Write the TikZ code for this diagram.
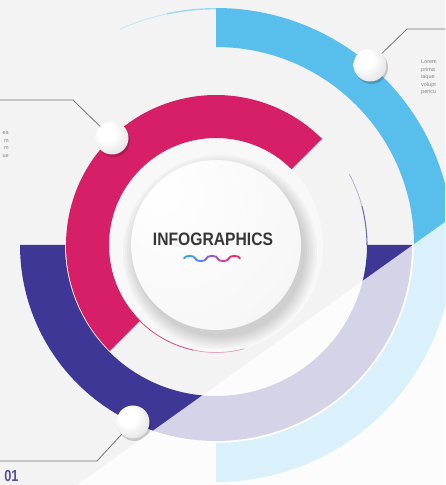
\documentclass[tikz,border=0pt]{standalone}
\usepackage{fontspec}
\setmainfont{Liberation Sans}
\usepackage{graphicx}
\usetikzlibrary{calc,shadows}
\definecolor{bgc}{RGB}{243,243,243}
\definecolor{platec}{RGB}{248,248,248}
\definecolor{pinkc}{RGB}{214,31,103}
\definecolor{indigoc}{RGB}{63,55,150}
\definecolor{bluec}{RGB}{88,190,236}
\definecolor{numc}{RGB}{86,80,160}
\definecolor{titlec}{RGB}{55,55,55}
\definecolor{leaderc}{RGB}{120,120,120}
\definecolor{txtc}{RGB}{135,135,135}
\definecolor{wa}{RGB}{58,160,242}
\definecolor{wb}{RGB}{92,128,232}
\definecolor{wc}{RGB}{140,92,214}
\definecolor{wd}{RGB}{196,66,160}
\definecolor{we}{RGB}{230,48,110}
\pgfdeclareradialshading{knobshade}{\pgfpoint{-12bp}{12bp}}{color(0bp)=(white); color(14bp)=(white); color(34bp)=(white!88!black); color(50bp)=(white!80!black)}
\pgfdeclareradialshading{discshade}{\pgfpoint{-18bp}{18bp}}{color(0bp)=(white); color(35bp)=(white!97!black); color(58bp)=(white!91!black); color(75bp)=(white!84!black)}
\tikzset{
  knob/.style={circle, minimum size=33pt, inner sep=0pt, shading=knobshade,
    drop shadow={shadow xshift=1.5pt, shadow yshift=-2.5pt, opacity=0.18, fill=black}},
  leader/.style={draw=leaderc, line width=0.8pt},
  smalltxt/.style={font=\fontsize{5.5}{7.6}\selectfont, text=txtc, inner sep=0pt},
  wave/.style={line width=1.9pt, line cap=round}
}
\newcommand{\ringsec}[5]{%
  \fill[#1] ($(C)+(#2:#5)$) arc[start angle=#2,end angle=#3,radius=#5]
    -- ($(C)+(#3:#4)$) arc[start angle=#3,end angle=#2,radius=#4] -- cycle;}
\begin{document}
\begin{tikzpicture}[x=1pt,y=1pt]
\useasboundingbox (0,0) rectangle (445,485);
\clip (0,0) rectangle (445,485);
\fill[bgc] (0,0) rectangle (445,485);
\coordinate (C) at (216,240);

% plate
\fill[platec] (C) circle (107);

% rings
\ringsec{bluec}{90}{-90}{198}{237}
\ringsec{indigoc}{180}{360}{151}{196}
\ringsec{pinkc}{45}{225}{107}{150}

% thin tails
\draw[pinkc, line width=0.8pt, opacity=0.8] ($(C)+(225:107.5)$) arc[start angle=225,end angle=258,radius=107.5];
\draw[pinkc, line width=0.7pt, opacity=0.4] ($(C)+(258:107.5)$) arc[start angle=258,end angle=285,radius=107.5];
\draw[indigoc, line width=1.1pt, opacity=0.7] ($(C)+(0:151)$) arc[start angle=0,end angle=15,radius=151];
\draw[indigoc, line width=0.8pt, opacity=0.35] ($(C)+(15:151)$) arc[start angle=15,end angle=28,radius=151];
\draw[bluec!60, line width=1.4pt] ($(C)+(90:236.3)$) arc[start angle=90,end angle=102,radius=236.3];
\draw[bluec!35, line width=1.0pt] ($(C)+(102:236.3)$) arc[start angle=102,end angle=114,radius=236.3];

% disc shadow
\foreach \r in {85,87,...,97} \fill[black, opacity=0.022] ($(C)+(4,-7)$) circle (\r);
% disc
\shade[shading=discshade] (C) circle (85);

% title
\node[font=\bfseries\fontsize{18}{18}\selectfont, text=titlec, inner sep=0pt] (title) at (213,245.5) {\scalebox{0.87}[1]{INFOGRAPHICS}};
% wave
\draw[wave, wa] (184,226.5) arc[start angle=180,end angle=0,x radius=5.6,y radius=2.6];
\draw[wave, wb] (195.2,226.5) arc[start angle=180,end angle=360,x radius=5.6,y radius=2.6];
\draw[wave, wc] (206.4,226.5) arc[start angle=180,end angle=0,x radius=5.6,y radius=2.6];
\draw[wave, wd] (217.6,226.5) arc[start angle=180,end angle=360,x radius=5.6,y radius=2.6];
\draw[wave, we] (228.8,226.5) arc[start angle=180,end angle=0,x radius=5.6,y radius=2.6];

% knobs
\node[knob] (k1) at (112,347) {};
\node[knob] (k2) at (370,420) {};
\node[knob] (k3) at (133,63) {};

% leader lines
\coordinate (b1) at (73,385);
\coordinate (e1) at (-2,385);
\coordinate (b2) at (407,456);
\coordinate (e2) at (447,456);
\coordinate (b3) at (97,24);
\coordinate (e3) at (-2,24);
\draw[leader] (k1) -- (b1) -- (e1);
\draw[leader] (k2) -- (b2) -- (e2);
\draw[leader] (k3) -- (b3) -- (e3);

% texts
\node[smalltxt, anchor=north west, align=left] (t2) at (421,425.5) {Lorem\\prima\\iaque\\volupt\\pericu};
\node[smalltxt, anchor=north east, align=right] (t1) at (9,353.5) {ea\\m\\m\\ue};
\node[font=\bfseries\fontsize{16}{16}\selectfont, text=numc, inner sep=0pt] (num) at (11.5,9) {\scalebox{0.8}[1]{01}};

% folded overlay
\fill[white, opacity=0.78] (77,0) -- (445,263) -- (445,0) -- cycle;
\end{tikzpicture}
\end{document}
